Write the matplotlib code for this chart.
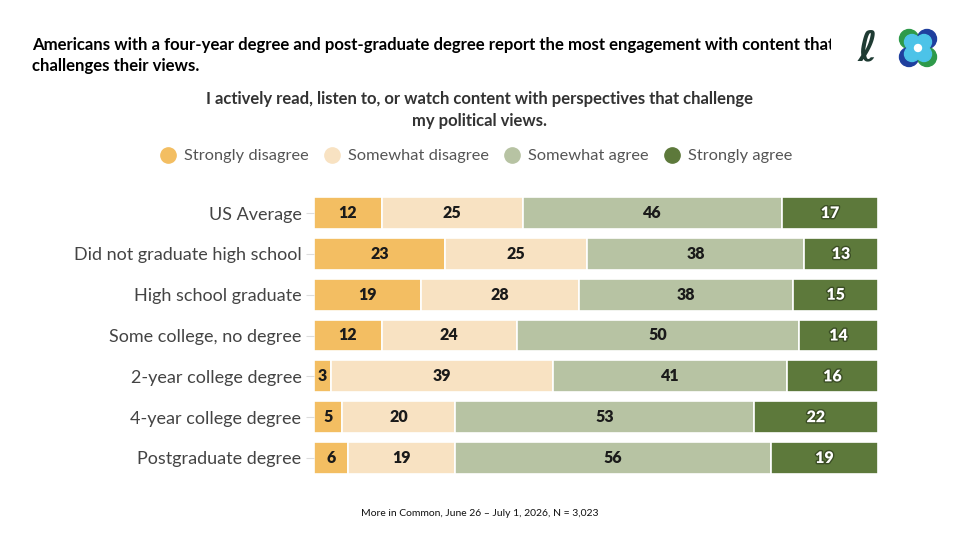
import numpy as np
import matplotlib.pyplot as plt
import matplotlib.patheffects as pe
from matplotlib.lines import Line2D
from matplotlib.patches import Circle
from matplotlib.transforms import Bbox

# data
groups = ['US Average', 'Did not graduate high school', 'High school graduate',
          'Some college, no degree', '2-year college degree',
          '4-year college degree', 'Postgraduate degree']
strongly_disagree = [12, 23, 19, 12, 3, 5, 6]
somewhat_disagree = [25, 25, 28, 24, 39, 20, 19]
somewhat_agree = [46, 38, 38, 50, 41, 53, 56]
strongly_agree = [17, 13, 15, 14, 16, 22, 19]
answers = ['Strongly disagree', 'Somewhat disagree', 'Somewhat agree', 'Strongly agree']
colors = ['#F3BE62', '#F8E2C2', '#B7C3A3', '#5D793B']
text_colors = ['#1a1a1a', '#1a1a1a', '#1a1a1a', 'white']

plt.rcParams['font.family'] = ['Lato', 'DejaVu Sans']

fig = plt.figure(figsize=(9.6, 5.4), dpi=100)
ax = fig.add_axes([314 / 960, 1 - 478.4 / 540, 564 / 960, 285.8 / 540])

values = np.array([strongly_disagree, somewhat_disagree, somewhat_agree, strongly_agree], dtype=float)
shares = values / values.sum(axis=0) * 100
y = np.arange(len(groups))
left = np.zeros(len(groups))
for i in range(4):
    ax.barh(y, shares[i], left=left, height=0.78, color=colors[i],
            edgecolor='white', linewidth=1.2)
    for j in range(len(groups)):
        t = ax.text(left[j] + shares[i][j] / 2, y[j], str(int(values[i][j])),
                    ha='center', va='center', fontsize=11.5, fontweight='heavy',
                    color=text_colors[i])
        if i == 3:
            t.set_path_effects([pe.withStroke(linewidth=2, foreground='#3a4d24')])
    left += shares[i]

ax.set_xlim(0, 100)
ax.set_ylim(len(groups) - 0.5, -0.5)
ax.set_yticks(y)
ax.set_yticklabels(groups, fontsize=13, color='#444444')
ax.set_xticks([])
ax.tick_params(axis='y', length=6, color='#dddddd', pad=3)
for s in ax.spines.values():
    s.set_visible(False)

# title, clipped on the right like the slide
title = fig.text(32 / 960, 1 - 37 / 540,
                 'Americans with a four-year degree and post-graduate degree report the most engagement with content that\nchallenges their views.',
                 ha='left', va='top', fontsize=12.1, fontweight='bold',
                 color='black', linespacing=1.4)
title.set_clip_box(Bbox.from_extents(0, 0, 831, 540))
title.set_clip_on(True)

fig.text(0.5, 1 - 110 / 540,
         'I actively read, listen to, or watch content with perspectives that challenge\nmy political views.',
         ha='center', va='center', fontsize=12, fontweight='bold',
         color='#333333', linespacing=1.4)

handles = [Line2D([], [], marker='o', linestyle='', markersize=11,
                  markerfacecolor=c, markeredgecolor=c) for c in colors]
fig.legend(handles, answers, loc='center', bbox_to_anchor=(472 / 960, 1 - 156 / 540),
           ncol=4, frameon=False, fontsize=11.8, handletextpad=0.0,
           columnspacing=0.4, labelcolor='#555555')

fig.text(0.5, 1 - 513 / 540, 'More in Common, June 26 \u2013 July 1, 2026, N = 3,023',
         ha='center', va='center', fontsize=7.5, color='#111111')

# logo
lax = fig.add_axes([845 / 960, 1 - 70 / 540, 100 / 960, 45 / 540])
lax.set_xlim(0, 100)
lax.set_ylim(0, 45)
lax.set_aspect('equal')
lax.axis('off')
lax.text(22, 22, '\u2113', fontsize=30, color='#1f3b33', ha='center', va='center',
         fontweight='bold', family=['DejaVu Sans'], style='italic')
for (cx, cy, c) in [(64, 31, '#2e9a4a'), (82, 31, '#1f3f9e'),
                    (64, 13, '#1f3f9e'), (82, 13, '#2e9a4a')]:
    lax.add_patch(Circle((cx, cy), 9.5, color=c))
for (cx, cy) in [(67, 28), (79, 28), (67, 16), (79, 16)]:
    lax.add_patch(Circle((cx, cy), 7.5, color='#4cc3e8'))
lax.add_patch(Circle((73, 22), 3.5, color='white'))

fig.savefig('out.png', dpi=100, facecolor='white')
